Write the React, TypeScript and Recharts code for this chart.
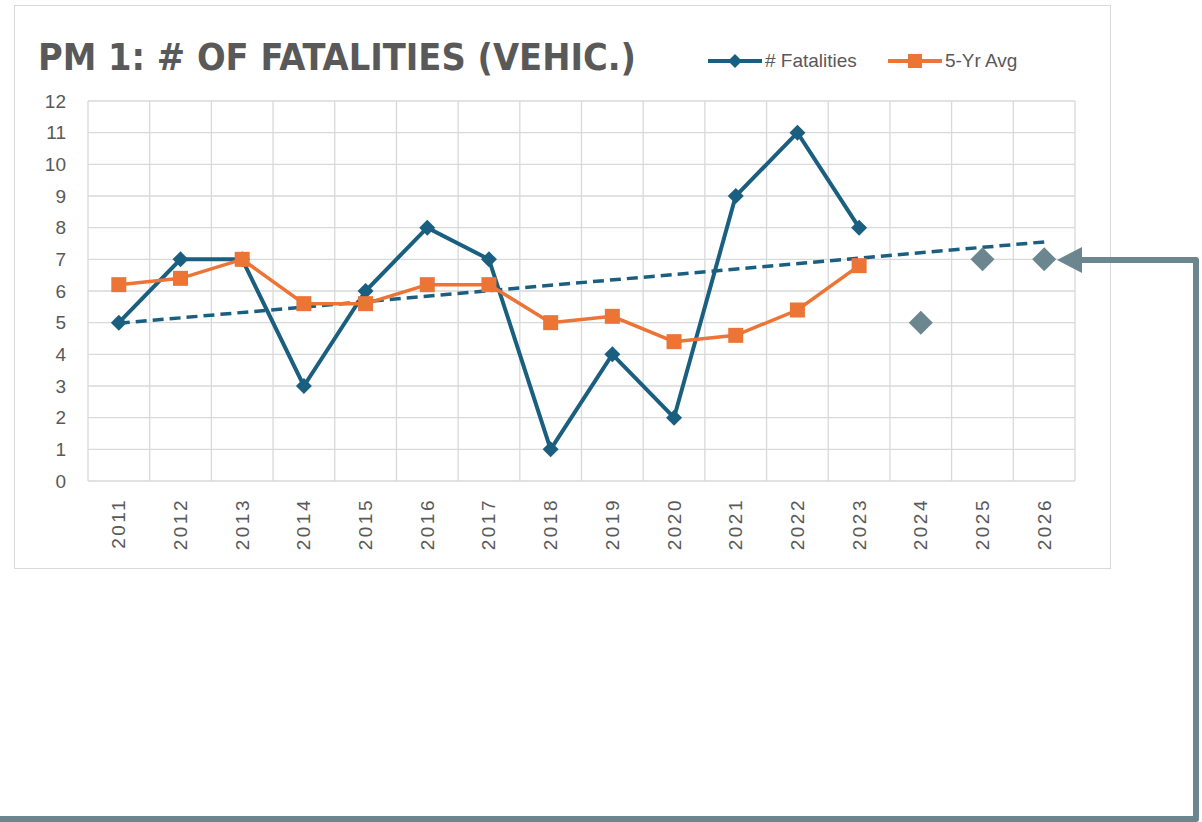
import React from "react";
import { LineChart, Line, XAxis, YAxis, CartesianGrid } from "recharts";

const years = [
  "2011", "2012", "2013", "2014", "2015", "2016", "2017", "2018",
  "2019", "2020", "2021", "2022", "2023", "2024", "2025", "2026",
];
const fatalities = [5, 7, 7, 3, 6, 8, 7, 1, 4, 2, 9, 11, 8, null, null, null];
const fiveYrAvg = [6.2, 6.4, 7.0, 5.6, 5.6, 6.2, 6.2, 5.0, 5.2, 4.4, 4.6, 5.4, 6.8, null, null, null];
const targets = [null, null, null, null, null, null, null, null, null, null, null, null, null, 5, 7, 7];
const trend = [4.98, null, null, null, null, null, null, null, null, null, null, null, null, null, null, 7.55];
const yTicks = [0, 1, 2, 3, 4, 5, 6, 7, 8, 9, 10, 11, 12];

const data = years.map((year, i) => ({
  year,
  fatalities: fatalities[i],
  avg: fiveYrAvg[i],
  target: targets[i],
  trend: trend[i],
}));

const BLUE = "#1b5f80";
const ORANGE = "#ec7434";
const SLATE = "#6b868e";
const TEXT = "#595959";

const Diamond = ({ cx, cy, r, fill }: any) =>
  cx == null || cy == null ? null : (
    <polygon
      points={`${cx},${cy - r} ${cx + r},${cy} ${cx},${cy + r} ${cx - r},${cy}`}
      fill={fill}
    />
  );

const Square = ({ cx, cy, s, fill }: any) =>
  cx == null || cy == null ? null : (
    <rect x={cx - s / 2} y={cy - s / 2} width={s} height={s} fill={fill} />
  );

const YearTick = ({ x, y, payload }: any) => (
  <text
    x={x}
    y={y}
    transform={`rotate(-90 ${x} ${y})`}
    textAnchor="end"
    dominantBaseline="central"
    fill={TEXT}
    fontSize={19}
    letterSpacing={2.5}
    fontFamily="Liberation Sans, Arial, sans-serif"
  >
    {payload.value}
  </text>
);

// vertical grid lines sit on the category boundaries, not the centres
const bandEdges = ({ offset }: any) =>
  Array.from({ length: years.length + 1 }, (_, i) => offset.left + (i * offset.width) / years.length);

const LegendBox = () => (
  <div
    style={{
      position: "absolute",
      left: 708,
      top: 50,
      display: "flex",
      alignItems: "center",
      fontFamily: "Liberation Sans, Arial, sans-serif",
      fontSize: 19,
      color: TEXT,
    }}
  >
    <svg width={54} height={20}>
      <line x1={0} y1={10} x2={54} y2={10} stroke={BLUE} strokeWidth={4} />
      <polygon points="27,3 34,10 27,17 20,10" fill={BLUE} />
    </svg>
    <span style={{ marginLeft: 3, marginRight: 31 }}># Fatalities</span>
    <svg width={54} height={20}>
      <line x1={0} y1={10} x2={54} y2={10} stroke={ORANGE} strokeWidth={4} />
      <rect x={20} y={3} width={14} height={14} fill={ORANGE} />
    </svg>
    <span style={{ marginLeft: 3 }}>5-Yr Avg</span>
  </div>
);

export default function App() {
  return (
    <div
      style={{
        position: "absolute",
        left: 0,
        top: 0,
        width: 1202,
        height: 822,
        overflow: "hidden",
        background: "#fff",
        fontFamily: "Liberation Sans, Arial, sans-serif",
      }}
    >
      <div
        style={{
          position: "absolute",
          left: 14,
          top: 5,
          width: 1097,
          height: 564,
          boxSizing: "border-box",
          border: "1px solid #d9d9d9",
        }}
      />
      <svg style={{ position: "absolute", left: 0, top: 0 }} width={700} height={100}>
        <text
          x={38}
          y={70}
          textLength={598}
          lengthAdjust="spacingAndGlyphs"
          fill={TEXT}
          fontSize={38}
          fontWeight="bold"
          fontFamily="Liberation Sans Narrow, DejaVu Sans Condensed, sans-serif"
        >
          PM 1: # OF FATALITIES (VEHIC.)
        </text>
      </svg>
      <LegendBox />
      <div style={{ position: "absolute", left: 14, top: 5 }}>
        <LineChart
          width={1096}
          height={563}
          data={data}
          margin={{ top: 96, right: 35, bottom: 0, left: 0 }}
        >
          <CartesianGrid stroke="#d9d9d9" strokeWidth={1.3} verticalCoordinatesGenerator={bandEdges} />
          <XAxis
            dataKey="year"
            height={87}
            padding={{ left: 30.8, right: 30.8 }}
            axisLine={false}
            tickLine={false}
            tickSize={0}
            tickMargin={17}
            interval={0}
            tick={<YearTick />}
          />
          <YAxis
            width={74}
            domain={[0, 12]}
            ticks={yTicks}
            axisLine={false}
            tickLine={false}
            tickSize={0}
            tickMargin={22}
            tick={{ fill: TEXT, fontSize: 19 }}
          />
          <Line
            dataKey="trend"
            stroke={BLUE}
            strokeWidth={3.5}
            strokeDasharray="11 6"
            connectNulls
            dot={false}
            isAnimationActive={false}
          />
          <Line
            dataKey="fatalities"
            name="# Fatalities"
            stroke={BLUE}
            strokeWidth={4}
            dot={(p: any) => <Diamond key={p.index} cx={p.cx} cy={p.cy} r={8} fill={BLUE} />}
            isAnimationActive={false}
          />
          <Line
            dataKey="avg"
            name="5-Yr Avg"
            stroke={ORANGE}
            strokeWidth={3.5}
            dot={(p: any) => <Square key={p.index} cx={p.cx} cy={p.cy} s={15} fill={ORANGE} />}
            isAnimationActive={false}
          />
          <Line
            dataKey="target"
            stroke="none"
            dot={(p: any) => <Diamond key={p.index} cx={p.cx} cy={p.cy} r={12} fill={SLATE} />}
            isAnimationActive={false}
          />
        </LineChart>
      </div>
      <svg
        style={{ position: "absolute", left: 0, top: 0, pointerEvents: "none" }}
        width={1202}
        height={822}
      >
        <polyline
          points="1080,260 1196,260 1196,819 -5,819"
          fill="none"
          stroke={SLATE}
          strokeWidth={6}
          strokeLinejoin="round"
        />
        <polygon points="1057,260 1082,247 1082,273" fill={SLATE} />
      </svg>
    </div>
  );
}
